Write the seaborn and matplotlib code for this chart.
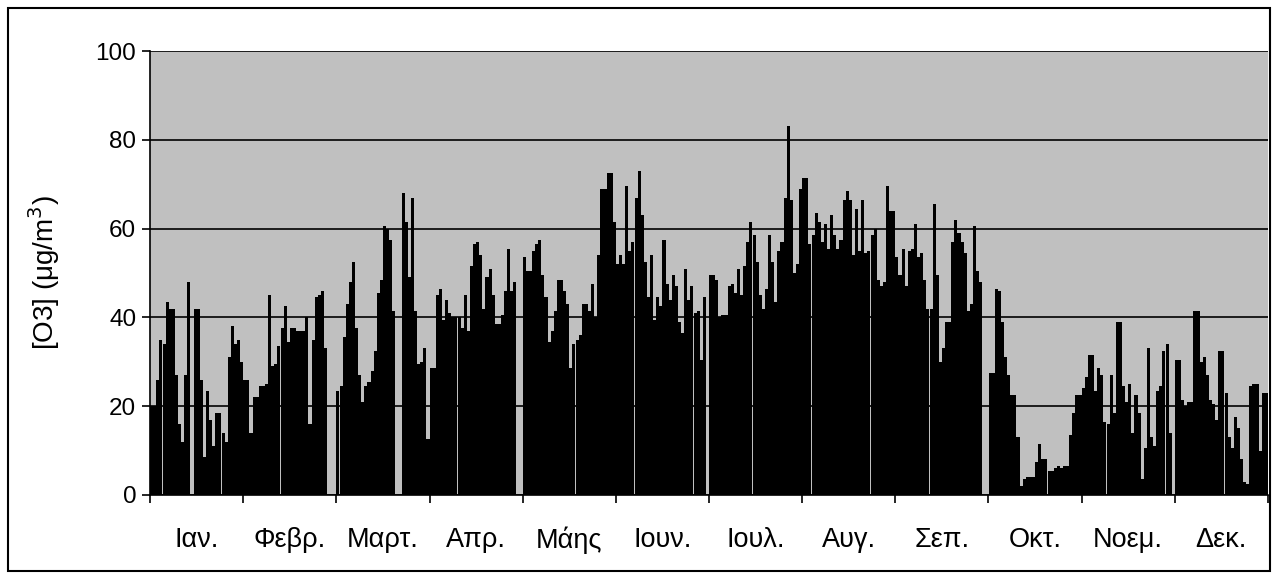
import seaborn as sns
import matplotlib.pyplot as plt
import matplotlib.patches as mpatches
import pandas as pd

# daily ozone values, 30 bars per month
jan = [20, 20, 26, 35, 34, 43.5, 42, 42, 27, 16, 12, 27, 48, 0, 42, 42, 26, 8.5, 23.5, 17,
       11, 18.5, 18.5, 14, 12, 31, 38, 34, 35, 30]
feb = [26, 26, 14, 22, 22, 24.5, 24.5, 25, 45, 29, 29.5, 33.5, 37.5, 42.5, 34.5, 37.5, 37.5, 37, 37, 37,
       40, 16, 35, 44.5, 45, 46, 33, 0, 0, 0]
mar = [23.5, 24.5, 35.5, 43, 48, 52.5, 37.5, 27, 21, 24.5, 25.5, 28, 32.5, 45.5, 48.5, 60.5, 60, 57.5, 41.5, 0,
       0, 68, 61.5, 49, 67, 41.5, 29.5, 30, 33, 12.5]
apr = [28.5, 28.5, 45, 46.5, 39.5, 44, 41, 40, 40, 40, 37.5, 45, 37, 51.5, 56.5, 57, 54, 42, 49, 51,
       45, 38.5, 38.5, 40.5, 46, 55.5, 46, 48, 0, 0]
may = [53.5, 50.5, 50.5, 55, 56.5, 57.5, 49.5, 44.5, 34.5, 37, 41.5, 48.5, 48.5, 46, 43, 28.5, 34, 35, 36, 43,
       43, 41.5, 47.5, 40, 54, 69, 69, 72.5, 72.5, 61.5]
jun = [52, 54, 52, 69.5, 55, 57, 67, 73, 63, 52.5, 44.5, 54, 39.5, 44.5, 42.5, 57.5, 47.5, 44, 49.5, 47,
       39, 36.5, 51, 44, 47, 41, 41.5, 30.5, 44.5, 0]
jul = [49.5, 49.5, 48.5, 40, 40.5, 40.5, 47, 47.5, 45.5, 51, 45, 51.5, 57, 61.5, 58.5, 52.5, 45, 42, 46.5, 58.5,
       52.5, 43.5, 55, 57, 67, 83, 66.5, 50, 52, 69]
aug = [71.5, 71.5, 56.5, 58.5, 63.5, 61.5, 57, 61, 55.5, 63, 58.5, 55.5, 57.5, 66.5, 68.5, 66.5, 54, 64.5, 55, 66.5,
       54.5, 55, 58.5, 60, 48.5, 47, 48, 69.5, 64, 64]
sep = [53.5, 49.5, 55.5, 47, 55, 55.5, 61, 53.5, 54.5, 48.5, 42, 42, 65.5, 49.5, 30, 33, 39, 39, 57, 62,
       59, 57, 54.5, 41.5, 43, 60.5, 50.5, 48, 0, 0]
octo = [27.5, 27.5, 46.5, 46, 39, 31, 27, 22.5, 22.5, 13, 2, 3.5, 4, 4, 4, 7.5, 11.5, 8, 8, 5.5,
        5.5, 6, 6.5, 6, 6.5, 6.5, 13.5, 18.5, 22.5, 22.5]
nov = [24, 26.5, 31.5, 31.5, 23.5, 28.5, 27, 16.5, 16, 27, 18.5, 39, 39, 24.5, 21, 25, 14, 22.5, 18.5, 3.5,
       10.5, 33, 13, 11, 23.5, 24.5, 32.5, 34, 14, 0]
dec = [30.5, 30.5, 21.5, 20, 21, 21, 41.5, 41.5, 30, 31, 27, 21.5, 20.5, 17, 32.5, 32.5, 23, 13, 10.5, 17.5,
       15, 8, 3, 2.5, 24.5, 25, 25, 10, 23, 23]

months = ['Ιαν.', 'Φεβρ.', 'Μαρτ.', 'Απρ.', 'Μάης', 'Ιουν.', 'Ιουλ.', 'Αυγ.', 'Σεπ.', 'Οκτ.', 'Νοεμ.', 'Δεκ.']

values = jan + feb + mar + apr + may + jun + jul + aug + sep + octo + nov + dec
df = pd.DataFrame({'day': range(len(values)), 'o3': values})

plt.rcParams['font.family'] = ['Liberation Sans', 'DejaVu Sans']

fig = plt.figure(figsize=(12.76, 5.79), dpi=100)
ax = fig.add_axes([0.1176, 0.1451, 0.8761, 0.7668])
ax.set_facecolor('#C0C0C0')

sns.barplot(data=df, x='day', y='o3', color='black', width=0.98, saturation=1,
            edgecolor='none', ax=ax)

n = len(values)
ax.set_xlim(-0.5, n - 0.5)
ax.set_ylim(0, 100)
ax.set_yticks(range(0, 101, 20))
ax.yaxis.grid(True, color='black', linewidth=1.2)
ax.set_axisbelow(True)

per = n // 12
ax.set_xticks([-0.5 + per * k for k in range(13)], [''] * 13)
ax.set_xticks([per * k + (per - 1) / 2 for k in range(12)], months, minor=True)
ax.tick_params(axis='x', which='major', length=6, width=1.2, color='black')
ax.tick_params(axis='x', which='minor', length=0, pad=23, labelsize=19.5)
ax.tick_params(axis='y', length=6, width=1.2, labelsize=17.5, pad=4)

for side in ['top', 'right']:
    ax.spines[side].set_visible(False)
for side in ['left', 'bottom']:
    ax.spines[side].set_color('black')
    ax.spines[side].set_linewidth(1.2)

ax.set_xlabel('')
ax.set_ylabel('[O3] (μg/m$^3$)', fontsize=20, labelpad=24)

fig.patches.append(mpatches.Rectangle((0.0063, 0.0138), 0.989, 0.972, transform=fig.transFigure,
                                      fill=False, edgecolor='black', linewidth=1.5))

plt.savefig('out.png', dpi=100)
